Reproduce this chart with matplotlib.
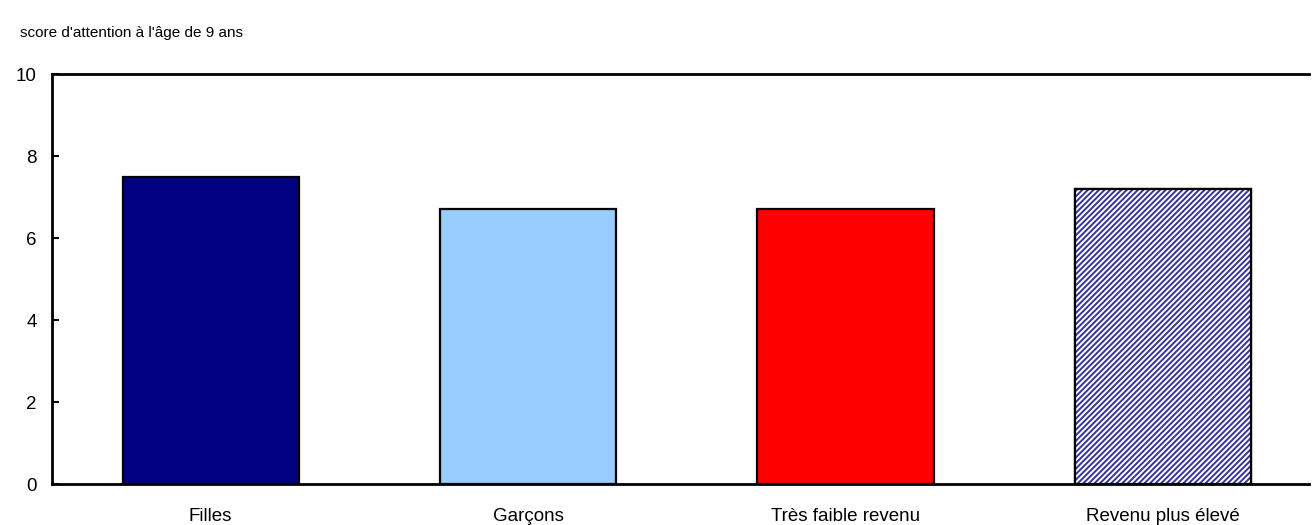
import numpy as np
import matplotlib.pyplot as plt

# -----------------------------
# Données
# -----------------------------
categories = ["Filles", "Garçons", "Très faible revenu", "Revenu plus élevé"]
scores = [7.5, 6.7, 6.7, 7.2]
couleurs = ["#000080", "#99ccff", "#ff0000", "white"]
yticks = [0, 2, 4, 6, 8, 10]

plt.rcParams['font.family'] = ['Liberation Sans', 'DejaVu Sans']
plt.rcParams['hatch.linewidth'] = 1.4
plt.rcParams['hatch.color'] = "#33339a"

fig = plt.figure(figsize=(13.12, 5.25), dpi=100)
ax = fig.add_axes([0.0396, 0.078, 0.958, 0.781])

x = np.arange(len(categories))
largeur = 0.555

# barres pleines
bars = ax.bar(x, scores, width=largeur, color=couleurs, edgecolor="black",
              linewidth=1.6, zorder=2)

# hachures pour la dernière barre
ax.bar(x[-1], scores[-1], width=largeur, color="white", edgecolor="#33339a",
       hatch="//////", linewidth=0, zorder=3)
ax.bar(x[-1], scores[-1], width=largeur, fill=False, edgecolor="black",
       linewidth=1.6, zorder=4)

ax.set_xlim(-0.5, 3.46)
ax.set_ylim(0, 10)
ax.set_yticks(yticks)
ax.set_xticks(x)
ax.set_xticklabels(categories)

ax.spines['right'].set_visible(False)
for s in ['left', 'top', 'bottom']:
    ax.spines[s].set_linewidth(2)

ax.tick_params(axis='y', direction='in', length=5, width=1.5, pad=11, labelsize=13.5)
ax.tick_params(axis='x', length=0, pad=17, labelsize=13.5)

fig.text(0.015, 0.937, "score d'attention à l'âge de 9 ans", fontsize=11,
         va='center', ha='left')

fig.savefig("out.png", dpi=100)
